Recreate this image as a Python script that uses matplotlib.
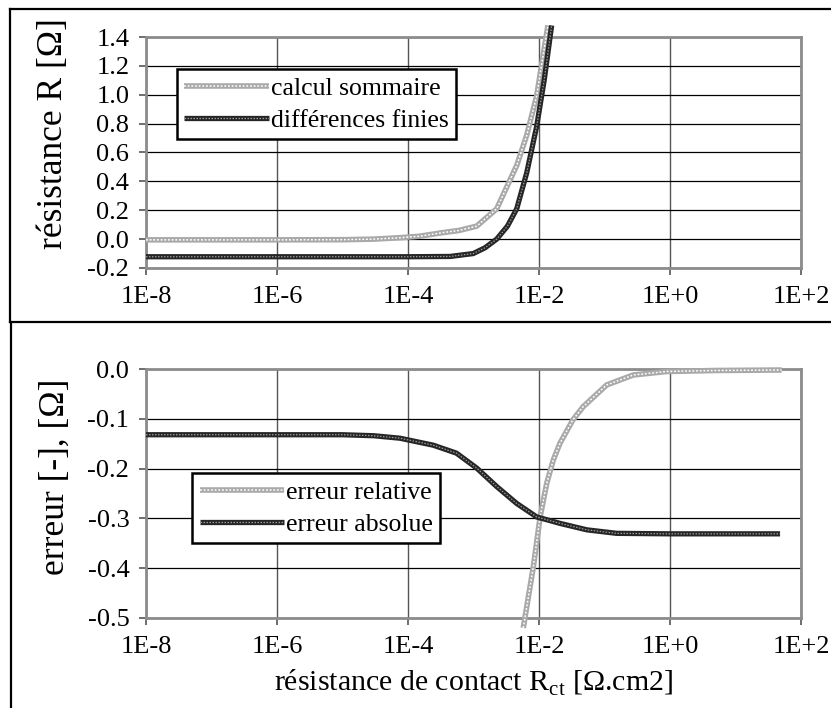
import matplotlib
matplotlib.use("Agg")
import matplotlib.pyplot as plt
from matplotlib.lines import Line2D
from matplotlib.legend_handler import HandlerTuple
import numpy as np

plt.rcParams['font.family'] = ['Liberation Serif', 'DejaVu Serif']
plt.rcParams['mathtext.fontset'] = 'custom'
plt.rcParams['mathtext.rm'] = 'Liberation Serif'
plt.rcParams['axes.unicode_minus'] = False

# top panel: resistance R
x_somm = [1e-8, 1e-6, 1e-5, 3e-5, 7.6e-5, 1.5e-4, 3.5e-4, 6e-4, 1.12e-3, 2.26e-3, 4.57e-3, 6.5e-3, 9.2e-3, 1.37e-2]
y_somm = [-0.005, -0.005, -0.004, 0.0, 0.01, 0.02, 0.046, 0.06, 0.09, 0.21, 0.51, 0.72, 0.99, 1.48]

x_diff = [1e-8, 1e-6, 1e-5, 1e-4, 4.4e-4, 9.9e-4, 1.5e-3, 2.26e-3, 3.3e-3, 4.57e-3, 6.5e-3, 9.2e-3, 1.2e-2, 1.56e-2]
y_diff = [-0.122, -0.122, -0.122, -0.122, -0.12, -0.10, -0.06, 0.0, 0.09, 0.21, 0.46, 0.78, 1.10, 1.48]

# bottom panel: errors
x_abs = [1e-8, 1e-6, 1e-5, 3e-5, 7.55e-5, 2.43e-4, 5.5e-4, 1.12e-3, 2.26e-3, 4.57e-3, 9.2e-3,
         2.09e-2, 5.4e-2, 0.153, 1.0, 10.0, 47.9]
y_abs = [-0.132, -0.132, -0.132, -0.134, -0.139, -0.153, -0.169, -0.199, -0.236, -0.27, -0.297,
         -0.31, -0.323, -0.33, -0.331, -0.331, -0.331]

x_rel = [5.75e-3, 8.2e-3, 1.04e-2, 1.31e-2, 1.65e-2, 2.09e-2, 3.3e-2, 4.7e-2, 0.108, 0.275, 0.89, 5.0, 50.7]
y_rel = [-0.52, -0.397, -0.297, -0.23, -0.183, -0.149, -0.102, -0.076, -0.032, -0.012, -0.005, -0.003, -0.002]

xticks = [1e-8, 1e-6, 1e-4, 1e-2, 1e0, 1e2]
xlabels = ['1E-8', '1E-6', '1E-4', '1E-2', '1E+0', '1E+2']

W, H = 831, 708
fig = plt.figure(figsize=(W / 100, H / 100), dpi=100)


def fx(px):
    return px / W


def fy(py):
    return 1 - py / H


ax1 = fig.add_axes([fx(146), fy(268), fx(801) - fx(146), fy(37) - fy(268)])
ax2 = fig.add_axes([fx(146), fy(618), fx(801) - fx(146), fy(369) - fy(618)])


def light_line(ax, x, y):
    a, = ax.plot(x, y, color='#a9a9a9', lw=4, solid_capstyle='butt', clip_on=False, zorder=3)
    b, = ax.plot(x, y, color='white', lw=1.1, dashes=(1.2, 1.2), clip_on=False, zorder=4)
    return (a, b)


def dark_line(ax, x, y):
    a, = ax.plot(x, y, color='#262626', lw=3.8, solid_capstyle='butt', clip_on=False, zorder=5)
    b, = ax.plot(x, y, color='#9a9a9a', lw=0.9, dashes=(1.2, 1.2), clip_on=False, zorder=6)
    return (a, b)


def style(ax, ylim, yticks):
    ax.set_xscale('log')
    ax.set_xlim(1e-8, 1e2)
    ax.set_xticks(xticks)
    ax.set_xticklabels(xlabels)
    ax.minorticks_off()
    ax.set_ylim(*ylim)
    ax.set_yticks(yticks)
    ax.set_yticklabels(['%.1f' % (0.0 if abs(v) < 1e-9 else v) for v in yticks])
    ax.tick_params(labelsize=19, direction='out', length=5, width=1.2, color='#555555', pad=7)
    ax.tick_params(axis='x', pad=8)
    ax.xaxis.grid(True, color='#555555', lw=1.0)
    ax.yaxis.grid(True, color='black', lw=0.9)
    ax.set_axisbelow(True)
    for s in ax.spines.values():
        s.set_color('#8c8c8c')
        s.set_linewidth(2)


style(ax1, (-0.2, 1.4), np.arange(-0.2, 1.41, 0.2))
h1 = light_line(ax1, x_somm, y_somm)
h2 = dark_line(ax1, x_diff, y_diff)
ax1.set_ylabel('résistance R [Ω]', fontsize=25.5)
ax1.yaxis.set_label_coords(-0.116, 0.582)
leg1 = ax1.legend([h1, h2], ['calcul sommaire', 'différences finies'],
                  handler_map={tuple: HandlerTuple(ndivide=1)},
                  loc='upper left', bbox_to_anchor=(0.047, 0.861), borderaxespad=0,
                  fontsize=18.5, fancybox=False, framealpha=1, edgecolor='black',
                  handlelength=3.3, handletextpad=0.05, borderpad=0.3, labelspacing=0.35)
leg1.get_frame().set_linewidth(1.8)
leg1.set_zorder(10)

style(ax2, (-0.5, 0.0), np.arange(-0.5, 0.01, 0.1))
h3 = light_line(ax2, x_rel, y_rel)
h4 = dark_line(ax2, x_abs, y_abs)
ax2.set_ylabel('erreur [-], [Ω]', fontsize=25.5)
ax2.yaxis.set_label_coords(-0.113, 0.566)
ax2.set_xlabel(r'résistance de contact R$_{\mathrm{ct}}$ [Ω.cm2]', fontsize=21.5, labelpad=7)
leg2 = ax2.legend([h3, h4], ['erreur relative', 'erreur absolue'],
                  handler_map={tuple: HandlerTuple(ndivide=1)},
                  loc='upper left', bbox_to_anchor=(0.070, 0.582), borderaxespad=0,
                  fontsize=18.5, fancybox=False, framealpha=1, edgecolor='black',
                  handlelength=3.3, handletextpad=0.05, borderpad=0.3, labelspacing=0.35)
leg2.get_frame().set_linewidth(1.8)
leg2.set_zorder(10)

# outer frames of the two panels
for seg in [((10, 9), (840, 9)), ((10, 9), (10, 322)), ((10, 322), (840, 322)),
            ((11, 322), (11, 720))]:
    (x0, y0), (x1, y1) = seg
    fig.add_artist(Line2D([fx(x0), fx(x1)], [fy(y0), fy(y1)], color='black', lw=1.6))

fig.savefig('out.png', dpi=100)
